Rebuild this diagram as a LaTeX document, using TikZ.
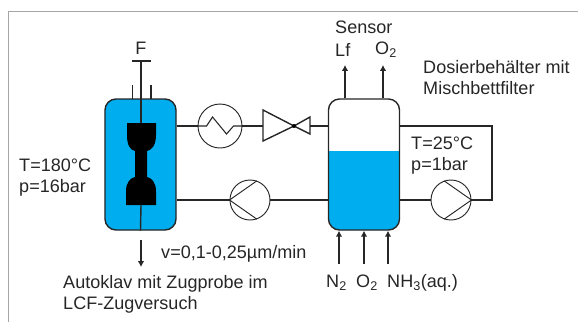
\documentclass[tikz,border=0pt]{standalone}
\usepackage{fontspec}
\setmainfont{Liberation Sans}
\usepackage{tikz}
\usetikzlibrary{arrows.meta}
\definecolor{wasser}{HTML}{00AEEF}
\definecolor{rahmen}{HTML}{A6A6A6}
\definecolor{schrift}{HTML}{262626}
\begin{document}
\begin{tikzpicture}[
    x=0.03cm, y=-0.03cm,
    behaelter/.style={rectangle, draw=schrift, line width=1.2pt, rounded corners=0.33cm, minimum width=2.13cm, minimum height=3.93cm},
    maschine/.style={circle, draw=schrift, line width=0.8pt, minimum size=1.2cm, inner sep=0pt},
    leitung/.style={draw=schrift, line width=1.2pt},
    arrow/.style={-{Latex[length=5pt,width=5.5pt]}, draw=schrift, line width=1.2pt},
    label/.style={text=schrift, font=\fontsize{15.4pt}{18pt}\selectfont, align=left, inner sep=0pt},
    >=latex
]
\useasboundingbox (0,0) rectangle (578,322);

% Frame
\draw[rahmen, line width=0.8pt] (8.5,322) -- (8.5,11.5) -- (578,11.5);

% Vessels
\node[behaelter, fill=wasser] (autoklav) at (140.5,164.5) {};
\fill[wasser, rounded corners=0.33cm] (329,151) [sharp corners] -- (329,190) [rounded corners=0.33cm] -- (329,230) -- (399,230) -- (399,190) [sharp corners] -- (399,151) -- cycle;
\node[behaelter] (tank) at (364,164.5) {};

% Specimen
\fill[black] (127,123) -- (156,123) -- (156,135) .. controls (156,145) and (152,150) .. (147,151) -- (147,177)
    .. controls (152,178) and (156,183) .. (156,191) -- (156,205) -- (126,205) -- (126,191)
    .. controls (126,183) and (130,178) .. (135,177) -- (135,151) .. controls (130,150) and (127,145) .. (127,135) -- cycle;

% Rod
\coordinate (griff) at (141,61);
\coordinate (griffa) at (132,61);
\coordinate (griffb) at (151,61);
\coordinate (probeoben) at (141,123);
\coordinate (probeunten) at (141,205);
\draw[leitung] (griffa) -- (griffb);
\draw[leitung] (griff) -- (probeoben);
\draw[leitung] (probeunten) -- (autoklav.south);
\draw[leitung] (132.5,85) -- (132.5,99);
\draw[leitung] (151,85) -- (151,99);

% Machines
\node[maschine, minimum size=1.32cm] (hx) at (220,126) {};
\node[maschine] (pumpa) at (250,200) {};
\node[maschine] (pumpb) at (451,200) {};
\draw[leitung, line width=0.9pt] (hx.west) -- ++(9,0) -- ++(6,-9) -- ++(14,17) -- ++(7,-8) -- (hx.east);
\draw[leitung, line width=0.8pt] (pumpa.70) -- (pumpa.west) -- (pumpa.-70);
\draw[leitung, line width=0.8pt] (pumpb.110) -- (pumpb.east) -- (pumpb.-110);

% Valve
\coordinate (ventil) at (294,126);
\coordinate (ventila) at (263,126);
\coordinate (ventilb) at (310,126);
\draw[leitung] (ventil) -- (263,110) -- (263,141) -- cycle;
\draw[leitung] (ventil) -- (310,117) -- (310,134) -- cycle;
\fill[black] (ventil) circle (2);

% Connections
\draw[leitung] (autoklav.east |- hx) -- (hx.west);
\draw[leitung] (hx.east) -- (ventila);
\draw[leitung] (ventilb) -- (tank.west |- ventilb);
\draw[leitung] (autoklav.east |- pumpa) -- (pumpa.west);
\draw[leitung] (pumpa.east) -- (tank.west |- pumpa);
\draw[leitung] (tank.east |- pumpb) -- (pumpb.west);
\draw[leitung] (pumpb.east) -- (492,200) -- (492,126) -- (tank.east |- hx);

% Arrows
\coordinate (lf) at (345,65);
\coordinate (otop) at (383,65);
\coordinate (zug) at (141,240);
\coordinate (zugb) at (141,267);
\coordinate (na) at (339,264);
\coordinate (nb) at (364,264);
\coordinate (nc) at (388,264);
\draw[arrow] (tank.north -| lf) -- (lf);
\draw[arrow] (tank.north -| otop) -- (otop);
\draw[arrow] (zug) -- (zugb);
\draw[arrow] (na) -- (tank.south -| na);
\draw[arrow] (nb) -- (tank.south -| nb);
\draw[arrow] (nc) -- (tank.south -| nc);

% Labels
\node[label] (f) at (141,48) {F};
\node[label, anchor=west] (sensor) at (335,27) {Sensor};
\node[label, anchor=west] (lftext) at (335,50) {Lf};
\node[label, anchor=west] (otext) at (375,50) {O\textsubscript{2}};
\node[label, anchor=west] (dosier) at (423,78) {Dosierbehälter mit\\Mischbettfilter};
\node[label, anchor=west] (auto) at (19,178) {T=180°C\\p=16bar};
\node[label, anchor=west] (rechts) at (411,156) {T=25°C\\p=1bar};
\node[label, anchor=west] (speed) at (161,254) {v=0,1-0,25µm/min};
\node[label, anchor=west] (probe) at (63,294) {Autoklav mit Zugprobe im\\LCF-Zugversuch};
\node[label, anchor=west] (ntext) at (326,283) {N\textsubscript{2}};
\node[label, anchor=west] (otextb) at (356,283) {O\textsubscript{2}};
\node[label, anchor=west] (nhtext) at (387,283) {NH\textsubscript{3}(aq.)};
\end{tikzpicture}
\end{document}
